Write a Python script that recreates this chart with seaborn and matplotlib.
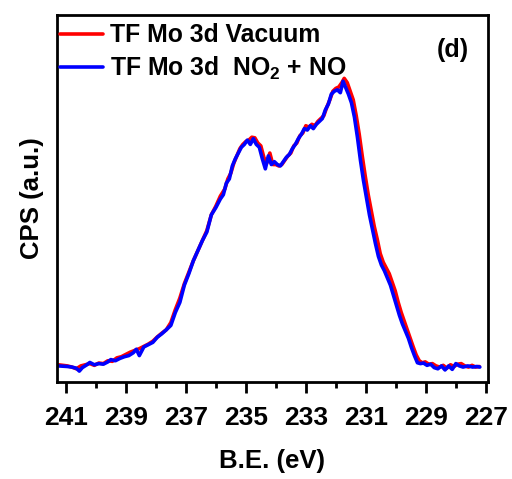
import pandas as pd
import matplotlib
matplotlib.use("Agg")
import matplotlib.pyplot as plt
from matplotlib.ticker import MultipleLocator
import seaborn as sns

# Energia de ligação (eV) e intensidade normalizada
be_vacuum = [241.25, 241.1, 240.95, 240.8, 240.65, 240.5, 240.35, 240.2, 240.05, 239.9,
             239.75, 239.6, 239.45, 239.3, 239.15, 239.0, 238.85, 238.7, 238.55, 238.4,
             238.25, 238.1, 237.95, 237.8, 237.65, 237.5, 237.35, 237.2, 237.05, 236.9,
             236.75, 236.6, 236.45, 236.3, 236.15, 236.0, 235.85, 235.7, 235.6, 235.5,
             235.4, 235.3, 235.2, 235.1, 235.0, 234.9, 234.8, 234.7, 234.6, 234.5,
             234.4, 234.3, 234.2, 234.1, 234.0, 233.9, 233.8, 233.7, 233.6, 233.5,
             233.4, 233.3, 233.2, 233.1, 233.0, 232.9, 232.8, 232.7, 232.6, 232.5,
             232.4, 232.3, 232.2, 232.1, 232.0, 231.9, 231.8, 231.72, 231.62, 231.52,
             231.42, 231.32, 231.22, 231.12, 231.02, 230.92, 230.82, 230.72, 230.62, 230.52,
             230.42, 230.32, 230.22, 230.12, 230.02, 229.92, 229.82, 229.72, 229.62, 229.52,
             229.42, 229.32, 229.22, 229.12, 229.02, 228.9, 228.78, 228.66, 228.54, 228.42,
             228.3, 228.18, 228.06, 227.94, 227.82, 227.7, 227.58, 227.46, 227.34, 227.22]
cps_vacuum = [0.008, 0.006, 0.004, 0.0, -0.006, 0.004, 0.008, 0.012, 0.006, 0.014,
              0.012, 0.022, 0.02, 0.032, 0.036, 0.044, 0.052, 0.058, 0.064, 0.072,
              0.08, 0.09, 0.105, 0.118, 0.13, 0.155, 0.2, 0.24, 0.29, 0.33,
              0.37, 0.405, 0.44, 0.475, 0.53, 0.56, 0.595, 0.62, 0.655, 0.675,
              0.71, 0.735, 0.76, 0.775, 0.785, 0.79, 0.8, 0.798, 0.78, 0.77,
              0.73, 0.71, 0.745, 0.705, 0.705, 0.7, 0.705, 0.72, 0.735, 0.745,
              0.77, 0.78, 0.805, 0.815, 0.84, 0.835, 0.845, 0.84, 0.855, 0.865,
              0.875, 0.905, 0.93, 0.96, 0.97, 0.975, 0.99, 1.005, 0.99, 0.96,
              0.93, 0.875, 0.81, 0.735, 0.665, 0.6, 0.545, 0.49, 0.445, 0.395,
              0.365, 0.345, 0.325, 0.295, 0.265, 0.225, 0.19, 0.16, 0.13, 0.1,
              0.07, 0.042, 0.022, 0.015, 0.018, 0.01, 0.012, 0.004, 0.0, 0.006,
              -0.004, 0.008, 0.002, 0.01, 0.012, 0.004, 0.0, 0.006, 0.0, 0.002]

be_gas = [241.25, 241.1, 240.95, 240.8, 240.65, 240.55, 240.45, 240.3, 240.2, 240.05,
          239.9, 239.75, 239.6, 239.5, 239.35, 239.2, 239.05, 238.9, 238.75, 238.65,
          238.55, 238.4, 238.25, 238.1, 237.95, 237.8, 237.65, 237.5, 237.35, 237.2,
          237.05, 236.9, 236.75, 236.6, 236.45, 236.3, 236.15, 236.0, 235.85, 235.75,
          235.65, 235.55, 235.45, 235.35, 235.25, 235.15, 235.05, 234.95, 234.85, 234.75,
          234.65, 234.55, 234.45, 234.35, 234.25, 234.15, 234.05, 233.95, 233.85, 233.75,
          233.65, 233.55, 233.45, 233.35, 233.25, 233.15, 233.05, 232.95, 232.85, 232.75,
          232.65, 232.55, 232.45, 232.35, 232.25, 232.15, 232.05, 231.95, 231.85, 231.76,
          231.68, 231.58, 231.48, 231.38, 231.28, 231.18, 231.08, 230.98, 230.88, 230.78,
          230.68, 230.58, 230.48, 230.38, 230.28, 230.18, 230.08, 229.98, 229.88, 229.78,
          229.68, 229.58, 229.48, 229.38, 229.28, 229.18, 229.08, 228.96, 228.84, 228.72,
          228.6, 228.48, 228.36, 228.24, 228.12, 228.0, 227.88, 227.76, 227.6, 227.44,
          227.3, 227.2]
cps_gas = [0.004, 0.003, 0.002, 0.0, -0.004, -0.014, -0.002, 0.008, 0.016, 0.008,
           0.012, 0.01, 0.018, 0.026, 0.022, 0.03, 0.036, 0.04, 0.05, 0.062,
           0.04, 0.07, 0.078, 0.086, 0.104, 0.116, 0.13, 0.145, 0.19, 0.225,
           0.285, 0.325, 0.37, 0.405, 0.44, 0.47, 0.53, 0.555, 0.585, 0.6,
           0.64, 0.655, 0.7, 0.725, 0.745, 0.765, 0.775, 0.79, 0.775, 0.795,
           0.775, 0.765, 0.725, 0.69, 0.735, 0.705, 0.715, 0.705, 0.7, 0.715,
           0.73, 0.74, 0.76, 0.775, 0.795, 0.81, 0.83, 0.825, 0.84, 0.83,
           0.845, 0.855, 0.865, 0.895, 0.915, 0.95, 0.96, 0.965, 0.955, 0.995,
           0.975, 0.95, 0.92, 0.87, 0.8, 0.72, 0.65, 0.59, 0.53, 0.48,
           0.43, 0.385, 0.355, 0.335, 0.31, 0.285, 0.25, 0.215, 0.18, 0.15,
           0.125, 0.1, 0.068, 0.04, 0.015, 0.012, 0.014, 0.006, 0.01, -0.002,
           -0.006, 0.004, -0.01, 0.004, -0.008, 0.012, 0.004, 0.0, 0.004, 0.0,
           0.002, 0.0]

label_vacuum = "TF Mo 3d Vacuum"
label_gas = r"TF Mo 3d  NO$_\mathbf{2}$ + NO"

# Montar o DataFrame no formato longo
data = pd.concat([
    pd.DataFrame({"be": be_vacuum, "cps": cps_vacuum, "amostra": label_vacuum}),
    pd.DataFrame({"be": be_gas, "cps": cps_gas, "amostra": label_gas}),
], ignore_index=True)

sns.set_style("ticks")
plt.rcParams["font.family"] = ["Liberation Sans", "DejaVu Sans"]
plt.rcParams["font.weight"] = "bold"
plt.rcParams["text.color"] = "black"
plt.rcParams["axes.labelcolor"] = "black"
plt.rcParams["xtick.color"] = "black"
plt.rcParams["mathtext.fontset"] = "custom"
plt.rcParams["mathtext.rm"] = "Liberation Sans:bold"
plt.rcParams["mathtext.bf"] = "Liberation Sans:bold"
plt.rcParams["mathtext.default"] = "bf"

fig = plt.figure(figsize=(5.12, 4.79), dpi=100)
ax = fig.add_axes([0.111, 0.2025, 0.842, 0.7665])

sns.lineplot(data=data, x="be", y="cps", hue="amostra",
             palette={label_vacuum: "#ff0000", label_gas: "#0000ff"},
             linewidth=2.6, sort=False, estimator=None, ax=ax)

# Eixo x invertido (energia de ligação), ticks nos valores ímpares
ax.set_xlim(241.3, 226.93)
ax.set_ylim(-0.052, 1.226)
ax.xaxis.set_major_locator(MultipleLocator(2, offset=1))
ax.xaxis.set_minor_locator(MultipleLocator(1))
ax.set_yticks([])
ax.tick_params(axis="x", which="major", direction="out", length=8, width=2,
               labelsize=19, pad=9, colors="black")
ax.tick_params(axis="x", which="minor", direction="out", length=4.5, width=2,
               colors="black")
for s in ax.spines.values():
    s.set_linewidth(2)
    s.set_color("black")

ax.set_xlabel("B.E. (eV)", fontsize=18.5, fontweight="bold", labelpad=14)
ax.set_ylabel("CPS (a.u.)", fontsize=18.5, fontweight="bold", labelpad=9)

ax.text(0.955, 0.905, "(d)", transform=ax.transAxes, ha="right", va="center",
        fontsize=18, fontweight="bold")

ax.legend(loc="upper left", frameon=False, fontsize=17.8, handlelength=1.75,
          handletextpad=0.3, labelspacing=0.3, borderaxespad=0,
          borderpad=0.12, bbox_to_anchor=(0.0, 0.985), title=None)

fig.savefig("out.png", dpi=100)
plt.close()
